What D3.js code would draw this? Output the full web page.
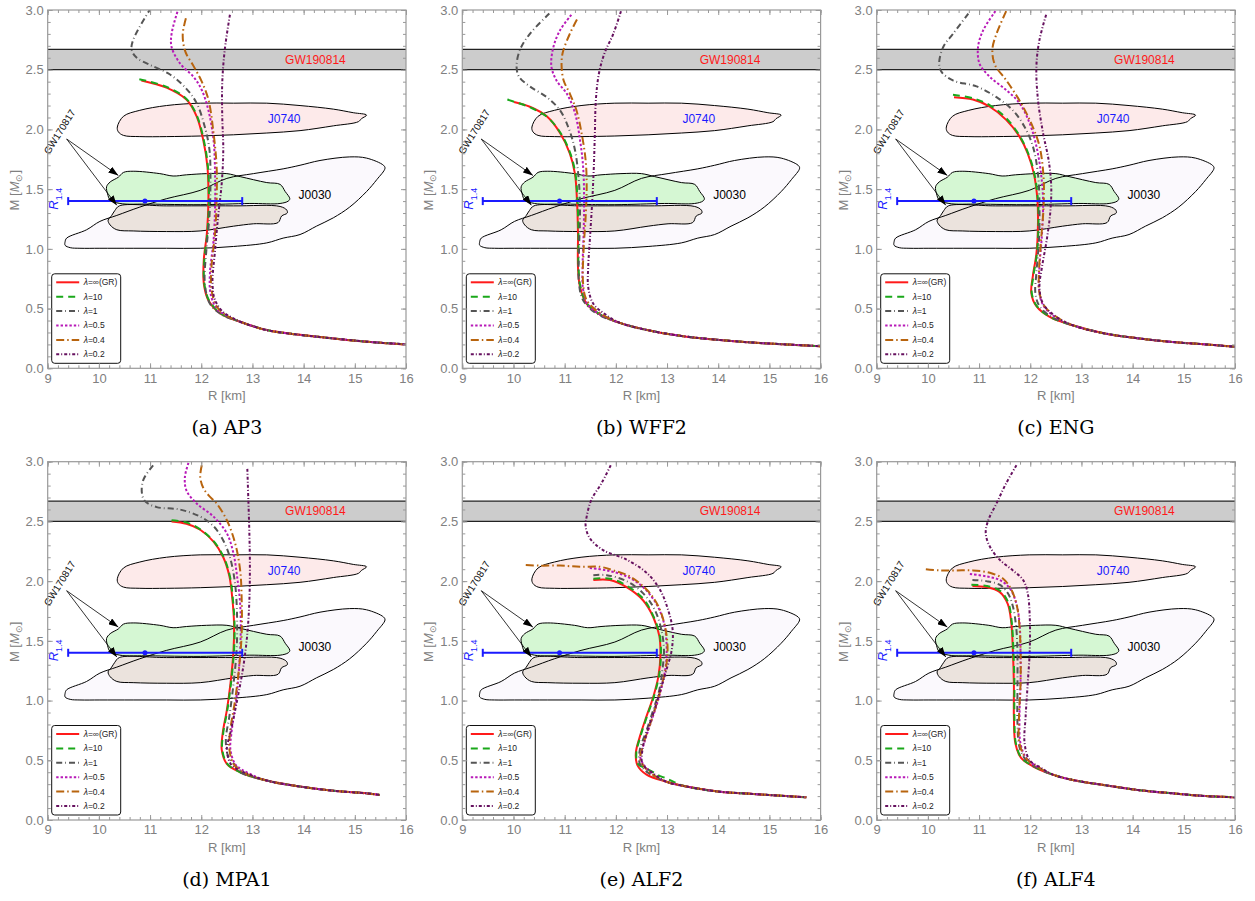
<!DOCTYPE html>
<html>
<head>
<meta charset="utf-8">
<script src="https://cdn.jsdelivr.net/npm/d3@7"></script>
<style>
body { margin: 0; background: #fff; }
svg { font-family: "Liberation Sans", Arial, sans-serif; }
</style>
</head>
<body>
<svg id="chart" width="1255" height="901"></svg>
<script>
// ---- data: [R km, M Msun] ----
var panelNames = ['AP3', 'WFF2', 'ENG', 'MPA1', 'ALF2', 'ALF4'];
var panelTags = ['(a)', '(b)', '(c)', '(d)', '(e)', '(f)'];
var lambdaLabels = ['=\u221e(GR)', '=10', '=1', '=0.5', '=0.4', '=0.2'];
var xTicks = [9, 10, 11, 12, 13, 14, 15, 16];
var yTicks = [0, 0.5, 1, 1.5, 2, 2.5, 3];

// AP3
var ap3GR = [[10.83,2.41],[11.32,2.35],[11.71,2.25],[11.91,2.11],[12.04,1.91],[12.12,1.69],[12.14,1.41],[12.11,1.13],[12.05,0.91],[12.05,0.71],[12.14,0.57],[12.37,0.46]];
var ap3L10 = [[10.79,2.42],[11.30,2.36],[11.70,2.26],[11.91,2.12],[12.05,1.91],[12.13,1.69],[12.15,1.41],[12.12,1.13],[12.06,0.91],[12.06,0.71],[12.15,0.57],[12.38,0.46]];
var ap3L1 = [[11.02,3.02],[10.67,2.75],[10.64,2.665],[10.74,2.60],[11.0,2.54],[11.39,2.46],[11.71,2.34],[11.91,2.22],[12.07,2.02],[12.16,1.83],[12.18,1.55],[12.16,1.27],[12.10,0.99],[12.07,0.71],[12.17,0.54],[12.40,0.45]];
var ap3L05 = [[11.56,3.02],[11.42,2.80],[11.42,2.69],[11.59,2.55],[11.85,2.44],[12.01,2.33],[12.14,2.16],[12.24,1.91],[12.27,1.63],[12.27,1.35],[12.24,1.07],[12.17,0.80],[12.18,0.63],[12.30,0.50],[12.50,0.44]];
var ap3L04 = [[11.70,2.93],[11.64,2.81],[11.65,2.72],[11.70,2.64],[11.85,2.53],[12.01,2.40],[12.14,2.25],[12.24,1.97],[12.30,1.69],[12.30,1.41],[12.27,1.13],[12.20,0.85],[12.20,0.66],[12.30,0.52],[12.50,0.44]];
var ap3L02 = [[12.56,2.96],[12.46,2.67],[12.41,2.39],[12.41,2.11],[12.43,1.83],[12.40,1.55],[12.33,1.27],[12.27,0.99],[12.22,0.71],[12.27,0.57],[12.43,0.47],[12.62,0.42]];
var ap3Tail = [[12.76,0.39],[13.28,0.32],[13.93,0.28],[14.58,0.25],[15.23,0.223],[16.0,0.20]];

// WFF2
var wffGR = [[10.01,2.23],[10.32,2.19],[10.65,2.11],[10.91,1.97],[11.10,1.80],[11.20,1.63],[11.24,1.41],[11.26,1.13],[11.26,0.85],[11.30,0.68],[11.43,0.54],[11.69,0.45]];
var wffL10 = [[9.88,2.25],[10.10,2.22],[10.35,2.18],[10.67,2.10],[10.92,1.97],[11.11,1.80],[11.21,1.63],[11.25,1.41],[11.27,1.13],[11.27,0.85],[11.31,0.68],[11.44,0.54],[11.70,0.45]];
var wffL1 = [[10.70,2.97],[10.32,2.80],[10.13,2.67],[10.06,2.53],[10.11,2.44],[10.32,2.36],[10.65,2.27],[10.91,2.16],[11.07,2.02],[11.20,1.83],[11.28,1.55],[11.30,1.27],[11.28,0.99],[11.28,0.71],[11.36,0.57],[11.62,0.46]];
var wffL05 = [[11.13,2.96],[10.91,2.83],[10.78,2.69],[10.74,2.53],[10.84,2.41],[11.04,2.30],[11.20,2.14],[11.30,1.91],[11.36,1.69],[11.38,1.41],[11.37,1.13],[11.35,0.85],[11.36,0.66],[11.46,0.53],[11.70,0.45]];
var wffL04 = [[11.24,2.92],[11.10,2.80],[10.96,2.64],[10.94,2.53],[10.98,2.41],[11.10,2.30],[11.23,2.16],[11.33,1.97],[11.41,1.74],[11.43,1.52],[11.41,1.27],[11.37,0.99],[11.36,0.71],[11.43,0.57],[11.70,0.46]];
var wffL02 = [[12.10,2.99],[11.95,2.80],[11.78,2.64],[11.67,2.47],[11.61,2.25],[11.59,1.97],[11.57,1.69],[11.54,1.41],[11.50,1.13],[11.46,0.85],[11.46,0.68],[11.56,0.54],[11.80,0.45]];
var wffTail = [[12.08,0.38],[12.73,0.31],[13.38,0.265],[14.03,0.237],[14.68,0.215],[15.33,0.20],[16.0,0.185]];

// ENG
var engGR = [[10.51,2.27],[10.88,2.25],[11.21,2.19],[11.53,2.08],[11.79,1.94],[11.95,1.80],[12.07,1.63],[12.14,1.41],[12.15,1.19],[12.12,0.96],[12.05,0.77],[12.02,0.63],[12.12,0.52],[12.38,0.43]];
var engL10 = [[10.49,2.29],[10.89,2.26],[11.22,2.20],[11.54,2.09],[11.80,1.94],[11.96,1.80],[12.08,1.63],[12.15,1.41],[12.16,1.19],[12.13,0.96],[12.06,0.77],[12.03,0.63],[12.13,0.52],[12.39,0.43]];
var engL1 = [[10.79,2.97],[10.49,2.80],[10.30,2.69],[10.22,2.55],[10.27,2.48],[10.49,2.41],[10.95,2.36],[11.34,2.27],[11.66,2.16],[11.89,2.02],[12.05,1.86],[12.15,1.63],[12.18,1.35],[12.17,1.07],[12.12,0.80],[12.10,0.63],[12.18,0.52],[12.42,0.43]];
var engL05 = [[11.32,2.99],[11.08,2.83],[10.98,2.69],[11.01,2.55],[11.21,2.44],[11.53,2.33],[11.79,2.22],[11.99,2.05],[12.12,1.86],[12.21,1.63],[12.25,1.41],[12.23,1.13],[12.18,0.85],[12.17,0.66],[12.25,0.53],[12.45,0.44]];
var engL04 = [[11.53,2.99],[11.34,2.80],[11.26,2.67],[11.31,2.54],[11.50,2.43],[11.66,2.33],[11.82,2.22],[12.02,2.05],[12.18,1.86],[12.26,1.60],[12.26,1.35],[12.21,1.07],[12.17,0.80],[12.18,0.63],[12.28,0.52],[12.48,0.44]];
var engL02 = [[12.31,2.96],[12.18,2.75],[12.12,2.53],[12.15,2.25],[12.25,1.97],[12.36,1.74],[12.41,1.52],[12.39,1.30],[12.32,1.07],[12.23,0.85],[12.18,0.68],[12.25,0.54],[12.48,0.44]];
var engTail = [[12.83,0.36],[13.48,0.29],[14.13,0.25],[14.78,0.22],[15.43,0.20],[16.0,0.18]];

// MPA1
var mpaGR = [[11.42,2.50],[11.71,2.48],[11.98,2.43],[12.24,2.33],[12.43,2.20],[12.55,2.04],[12.61,1.84],[12.64,1.65],[12.63,1.42],[12.57,1.14],[12.50,0.92],[12.42,0.73],[12.40,0.59],[12.50,0.47]];
var mpaL10 = [[11.42,2.51],[11.72,2.49],[11.99,2.43],[12.25,2.33],[12.44,2.20],[12.56,2.04],[12.62,1.84],[12.65,1.65],[12.64,1.42],[12.58,1.14],[12.51,0.92],[12.43,0.73],[12.41,0.59],[12.51,0.47]];
var mpaL1 = [[11.06,2.97],[10.87,2.85],[10.84,2.74],[10.90,2.67],[11.13,2.62],[11.58,2.60],[11.98,2.54],[12.24,2.46],[12.43,2.34],[12.56,2.20],[12.66,1.98],[12.70,1.70],[12.69,1.42],[12.63,1.14],[12.55,0.87],[12.48,0.67],[12.53,0.53],[12.70,0.44]];
var mpaL05 = [[11.75,2.99],[11.68,2.87],[11.71,2.76],[11.91,2.65],[12.24,2.54],[12.50,2.40],[12.63,2.23],[12.70,2.04],[12.76,1.81],[12.77,1.56],[12.74,1.28],[12.68,1.00],[12.59,0.73],[12.57,0.59],[12.66,0.47],[12.80,0.42]];
var mpaL04 = [[12.01,2.97],[11.98,2.87],[12.04,2.78],[12.14,2.72],[12.30,2.65],[12.50,2.51],[12.66,2.32],[12.76,2.09],[12.79,1.84],[12.79,1.56],[12.74,1.28],[12.66,1.00],[12.56,0.73],[12.55,0.59],[12.63,0.47],[12.78,0.41]];
var mpaL02 = [[12.90,2.94],[12.92,2.68],[12.94,2.40],[12.95,2.12],[12.94,1.84],[12.90,1.56],[12.82,1.28],[12.70,1.00],[12.57,0.73],[12.50,0.59],[12.59,0.46],[12.78,0.41]];
var mpaTail = [[12.76,0.40],[13.28,0.33],[13.93,0.28],[14.58,0.245],[15.23,0.223],[15.49,0.21]];

// ALF2
var alf2GR = [[11.56,2.01],[11.88,2.01],[12.21,1.95],[12.53,1.84],[12.73,1.70],[12.85,1.54],[12.87,1.37],[12.83,1.20],[12.73,1.03],[12.60,0.87],[12.47,0.70],[12.39,0.56],[12.42,0.46],[12.60,0.38]];
var alf2L10 = [[11.56,2.02],[11.89,2.02],[12.22,1.96],[12.54,1.85],[12.74,1.70],[12.86,1.54],[12.88,1.37],[12.84,1.20],[12.74,1.03],[12.61,0.87],[12.48,0.70],[12.40,0.56],[12.43,0.47],[12.60,0.43],[12.73,0.40],[12.85,0.37],[12.98,0.35],[13.15,0.315]];
var alf2L1 = [[11.56,2.05],[11.82,2.05],[12.21,2.00],[12.53,1.90],[12.76,1.76],[12.89,1.59],[12.94,1.42],[12.91,1.26],[12.85,1.09],[12.73,0.92],[12.60,0.75],[12.47,0.59],[12.47,0.47],[12.65,0.39]];
var alf2L05 = [[11.49,2.11],[11.82,2.09],[12.21,2.04],[12.53,1.95],[12.79,1.81],[12.94,1.65],[12.99,1.48],[12.98,1.31],[12.91,1.14],[12.81,0.98],[12.68,0.81],[12.55,0.64],[12.48,0.52],[12.68,0.40]];
var alf2L04 = [[10.24,2.135],[10.52,2.13],[10.91,2.13],[11.30,2.12],[11.69,2.12],[11.95,2.09],[12.27,2.04],[12.60,1.93],[12.83,1.79],[12.96,1.62],[13.01,1.45],[12.98,1.28],[12.89,1.12],[12.78,0.95],[12.65,0.78],[12.52,0.61],[12.48,0.50],[12.66,0.40]];
var alf2L02 = [[11.90,2.97],[11.72,2.82],[11.52,2.68],[11.43,2.54],[11.41,2.46],[11.49,2.36],[11.75,2.26],[12.21,2.18],[12.60,2.07],[12.86,1.93],[13.02,1.76],[13.11,1.59],[13.09,1.42],[12.99,1.26],[12.87,1.09],[12.73,0.89],[12.60,0.73],[12.52,0.59],[12.52,0.47],[12.70,0.40]];
var alf2Tail = [[12.99,0.32],[13.38,0.28],[14.03,0.237],[14.68,0.218],[15.33,0.20],[15.72,0.19]];

// ALF4
var alf4GR = [[10.87,1.96],[11.14,1.95],[11.40,1.91],[11.56,1.81],[11.63,1.65],[11.66,1.42],[11.68,1.14],[11.68,0.87],[11.71,0.64],[11.82,0.52],[12.05,0.45]];
var alf4L10 = [[10.85,1.97],[11.15,1.96],[11.41,1.92],[11.57,1.82],[11.64,1.65],[11.67,1.42],[11.69,1.14],[11.69,0.87],[11.72,0.64],[11.83,0.52],[12.06,0.45]];
var alf4L1 = [[10.87,2.01],[11.14,2.00],[11.40,1.97],[11.56,1.90],[11.66,1.79],[11.73,1.59],[11.75,1.37],[11.75,1.09],[11.75,0.81],[11.79,0.61],[11.92,0.50],[12.12,0.44]];
var alf4L05 = [[10.82,2.06],[11.14,2.04],[11.40,2.01],[11.60,1.94],[11.73,1.81],[11.79,1.65],[11.81,1.42],[11.81,1.14],[11.79,0.87],[11.81,0.64],[11.92,0.52],[12.12,0.45]];
var alf4L04 = [[9.96,2.10],[10.23,2.09],[10.56,2.09],[10.88,2.09],[11.21,2.07],[11.47,2.02],[11.63,1.93],[11.74,1.79],[11.79,1.62],[11.81,1.42],[11.81,1.14],[11.78,0.87],[11.79,0.64],[11.91,0.52],[12.12,0.45]];
var alf4L02 = [[11.73,2.97],[11.53,2.82],[11.34,2.65],[11.18,2.51],[11.13,2.40],[11.21,2.29],[11.40,2.18],[11.66,2.09],[11.86,2.01],[11.95,1.90],[11.99,1.70],[11.99,1.42],[11.95,1.14],[11.91,0.87],[11.89,0.64],[11.99,0.50],[12.20,0.44]];
var alf4Tail = [[12.44,0.38],[12.83,0.335],[13.48,0.29],[14.13,0.25],[14.78,0.223],[15.43,0.20],[16.0,0.19]];

// observational constraints (same in every panel)
var gw190814Band = [2.50, 2.67];
var j0740Outline = [[10.36,2.02],[10.48,2.11],[10.80,2.16],[11.32,2.20],[11.98,2.22],[12.63,2.22],[13.28,2.22],[13.93,2.20],[14.58,2.17],[14.97,2.14],[15.23,2.12],[15.13,2.09],[15.07,2.065],[14.58,2.03],[13.93,1.99],[13.28,1.97],[12.63,1.955],[11.98,1.945],[11.32,1.94],[10.80,1.94],[10.48,1.95],[10.38,1.98]];
var j0030Outline = [[9.34,1.06],[9.37,1.09],[9.76,1.16],[10.02,1.23],[10.35,1.28],[10.80,1.35],[11.32,1.42],[11.98,1.49],[12.50,1.59],[13.02,1.63],[13.60,1.67],[13.93,1.70],[14.32,1.74],[14.90,1.77],[15.23,1.76],[15.56,1.70],[15.59,1.675],[15.43,1.58],[15.23,1.48],[14.90,1.35],[14.58,1.26],[14.25,1.19],[13.93,1.12],[13.60,1.09],[13.28,1.05],[12.63,1.02],[11.98,1.005],[11.32,1.005],[10.67,1.005],[10.02,1.005],[9.63,1.005],[9.44,1.01],[9.34,1.03]];
var gwUpperOutline = [[10.15,1.52],[10.22,1.56],[10.38,1.60],[10.48,1.64],[10.67,1.65],[11.19,1.63],[11.45,1.61],[11.71,1.62],[12.10,1.63],[12.50,1.63],[12.76,1.605],[13.28,1.555],[13.54,1.54],[13.64,1.48],[13.73,1.42],[13.70,1.40],[13.54,1.38],[12.95,1.38],[11.98,1.37],[11.00,1.375],[10.41,1.38],[10.22,1.41],[10.17,1.46]];
var gwLowerOutline = [[10.40,1.36],[11.32,1.36],[12.63,1.36],[13.54,1.355],[13.67,1.325],[13.68,1.30],[13.57,1.275],[13.50,1.22],[13.02,1.21],[12.63,1.19],[11.98,1.15],[11.32,1.145],[10.67,1.15],[10.35,1.16],[10.22,1.20],[10.18,1.24],[10.25,1.28],[10.31,1.32]];
var r14Bar = [9.4, 10.9, 12.8];   // low, centre, high
var r14Mass = 1.4;
var gwArrowFrom = [9.37, 1.92];
var gwArrowTo = [[10.38, 1.615], [10.35, 1.365]];

var panelSeries = [
  [ap3GR, ap3L10, ap3L1, ap3L05, ap3L04, ap3L02],
  [wffGR, wffL10, wffL1, wffL05, wffL04, wffL02],
  [engGR, engL10, engL1, engL05, engL04, engL02],
  [mpaGR, mpaL10, mpaL1, mpaL05, mpaL04, mpaL02],
  [alf2GR, alf2L10, alf2L1, alf2L05, alf2L04, alf2L02],
  [alf4GR, alf4L10, alf4L1, alf4L05, alf4L04, alf4L02]
];
var panelTails = [ap3Tail, wffTail, engTail, mpaTail, alf2Tail, alf4Tail];

// ---- styles ----
var lineColors = ['#ff1a1a', '#1aa81a', '#555555', '#b81ab8', '#b8640e', '#66115f'];
var lineDash = [null, '7,5', '6,3,0.8,3', '2.4,2', '8,3,1.5,3', '3,2,1,2'];

var W = 358.3, H = 358.3;
var lefts = [47.7, 462.3, 876.7];
var tops = [10, 461.7];

var svg = d3.select('#chart');
var defs = svg.append('defs');
defs.append('marker')
    .attr('id', 'arrowhead')
    .attr('markerUnits', 'userSpaceOnUse')
    .attr('markerWidth', 10).attr('markerHeight', 7)
    .attr('refX', 10).attr('refY', 3.5)
    .attr('orient', 'auto')
    .append('path').attr('d', 'M0,0 L10,3.5 L0,7 Z').attr('fill', '#000');

var x = d3.scaleLinear().domain([9, 16]).range([0, W]);
var y = d3.scaleLinear().domain([0, 3]).range([H, 0]);

var curveLine = d3.line()
    .x(function(d) { return x(d[0]); })
    .y(function(d) { return y(d[1]); })
    .curve(d3.curveCatmullRom.alpha(0.5));
var outlineLine = d3.line()
    .x(function(d) { return x(d[0]); })
    .y(function(d) { return y(d[1]); })
    .curve(d3.curveCatmullRomClosed.alpha(0.5));

panelNames.forEach(function(name, p) {
    var col = p % 3, row = Math.floor(p / 3);
    var g = svg.append('g')
        .attr('transform', 'translate(' + lefts[col] + ',' + tops[row] + ')');

    defs.append('clipPath').attr('id', 'clip' + p)
        .append('rect').attr('width', W).attr('height', H);

    var plot = g.append('g').attr('clip-path', 'url(#clip' + p + ')');

    // regions
    plot.append('path').attr('d', outlineLine(j0030Outline)).attr('fill', '#fbf9fd');
    plot.append('path').attr('d', outlineLine(gwUpperOutline)).attr('fill', '#d5f7d3');
    plot.append('path').attr('d', outlineLine(gwLowerOutline)).attr('fill', '#ebe3dd');
    plot.append('path').attr('d', outlineLine(j0740Outline)).attr('fill', '#fdeaea');
    [j0030Outline, gwUpperOutline, gwLowerOutline, j0740Outline].forEach(function(o) {
        plot.append('path').attr('d', outlineLine(o))
            .attr('fill', 'none').attr('stroke', '#000').attr('stroke-width', 1);
    });

    // GW190814 band
    plot.append('rect')
        .attr('x', 0).attr('width', W)
        .attr('y', y(gw190814Band[1]))
        .attr('height', y(gw190814Band[0]) - y(gw190814Band[1]))
        .attr('fill', '#cccccc');
    gw190814Band.forEach(function(m) {
        plot.append('line').attr('x1', 0).attr('x2', W)
            .attr('y1', y(m)).attr('y2', y(m))
            .attr('stroke', '#222').attr('stroke-width', 1.2);
    });

    g.append('text').attr('x', x(14.23)).attr('y', y(2.585))
        .attr('dy', '0.35em').attr('text-anchor', 'middle')
        .attr('font-size', 12).attr('fill', '#ff1a1a').text('GW190814');
    g.append('text').attr('x', x(13.62)).attr('y', y(2.085))
        .attr('dy', '0.35em').attr('text-anchor', 'middle')
        .attr('font-size', 12).attr('fill', '#1a1aff').text('J0740');
    g.append('text').attr('x', x(14.22)).attr('y', y(1.45))
        .attr('dy', '0.35em').attr('text-anchor', 'middle')
        .attr('font-size', 12).attr('fill', '#000').text('J0030');

    // R_1.4 error bar
    var eb = g.append('g').attr('stroke', '#1a1aff').attr('stroke-width', 2);
    eb.append('line').attr('x1', x(r14Bar[0])).attr('x2', x(r14Bar[2]))
        .attr('y1', y(r14Mass)).attr('y2', y(r14Mass));
    [r14Bar[0], r14Bar[2]].forEach(function(v) {
        eb.append('line').attr('x1', x(v)).attr('x2', x(v))
            .attr('y1', y(r14Mass) - 4).attr('y2', y(r14Mass) + 4);
    });
    g.append('circle').attr('cx', x(r14Bar[1])).attr('cy', y(r14Mass))
        .attr('r', 2.5).attr('fill', '#1a1aff');
    var rl = g.append('text')
        .attr('transform', 'translate(' + (x(9.2)) + ',' + y(1.42) + ') rotate(-90)')
        .attr('text-anchor', 'middle').attr('fill', '#1a1aff').attr('font-size', 13);
    rl.append('tspan').attr('font-style', 'italic').text('R');
    rl.append('tspan').attr('font-size', 9).attr('dy', 4).text('1.4');

    // GW170817 arrows + label
    gwArrowTo.forEach(function(t) {
        g.append('line')
            .attr('x1', x(gwArrowFrom[0])).attr('y1', y(gwArrowFrom[1]))
            .attr('x2', x(t[0])).attr('y2', y(t[1]))
            .attr('stroke', '#000').attr('stroke-width', 0.8)
            .attr('marker-end', 'url(#arrowhead)');
    });
    g.append('text')
        .attr('transform', 'translate(' + x(9.29) + ',' + y(1.965) + ') rotate(-58)')
        .attr('text-anchor', 'middle').attr('font-size', 10).attr('fill', '#111')
        .text('GW170817');

    // M-R curves
    var series = panelSeries[p], tail = panelTails[p];
    series.forEach(function(s, k) {
        var last = s[s.length - 1][0];
        var pts = s.concat(tail.filter(function(d) { return d[0] > last + 0.05; }));
        plot.append('path')
            .attr('d', curveLine(pts))
            .attr('fill', 'none')
            .attr('stroke', lineColors[k])
            .attr('stroke-width', 2)
            .attr('stroke-dasharray', lineDash[k]);
    });

    // legend
    var lg = g.append('g').attr('transform', 'translate(4,' + (H - 94.5) + ')');
    lg.append('rect').attr('width', 69).attr('height', 89.5).attr('rx', 3)
        .attr('fill', '#fff').attr('stroke', '#111').attr('stroke-width', 1);
    lambdaLabels.forEach(function(lab, k) {
        var yy = 8.5 + k * 14.4;
        lg.append('line').attr('x1', 4.5).attr('x2', 27.5).attr('y1', yy).attr('y2', yy)
            .attr('stroke', lineColors[k]).attr('stroke-width', 2)
            .attr('stroke-dasharray', lineDash[k]);
        var t = lg.append('text').attr('x', 32).attr('y', yy).attr('dy', '0.35em')
            .attr('font-size', 8.5).attr('fill', '#222');
        t.append('tspan').attr('font-style', 'italic').text('\u03bb');
        t.append('tspan').text(lab);
    });

    // frame and ticks (Mathematica-style, inward on all sides)
    var axes = g.append('g').attr('class', 'axes');
    var xMinor = d3.range(9, 16.001, 0.2);
    var yMinor = d3.range(0, 3.001, 0.1);
    axes.append('g').attr('transform', 'translate(0,' + H + ')')
        .call(d3.axisBottom(x).tickValues(xMinor).tickSize(-3).tickFormat(''));
    axes.append('g').attr('transform', 'translate(0,' + H + ')')
        .call(d3.axisBottom(x).tickValues(xTicks).tickSize(-5).tickPadding(5).tickFormat(d3.format('d')));
    axes.append('g')
        .call(d3.axisTop(x).tickValues(xMinor).tickSize(-3).tickFormat(''));
    axes.append('g')
        .call(d3.axisTop(x).tickValues(xTicks).tickSize(-5).tickFormat(''));
    axes.append('g')
        .call(d3.axisLeft(y).tickValues(yMinor).tickSize(-3).tickFormat(''));
    axes.append('g')
        .call(d3.axisLeft(y).tickValues(yTicks).tickSize(-5).tickPadding(4).tickFormat(d3.format('.1f')));
    axes.append('g').attr('transform', 'translate(' + W + ',0)')
        .call(d3.axisRight(y).tickValues(yMinor).tickSize(-3).tickFormat(''));
    axes.append('g').attr('transform', 'translate(' + W + ',0)')
        .call(d3.axisRight(y).tickValues(yTicks).tickSize(-5).tickFormat(''));
    axes.selectAll('.domain').remove();
    axes.selectAll('.tick line').attr('stroke', '#999');
    axes.selectAll('.tick text').attr('fill', '#808080').attr('font-size', 13)
        .attr('font-family', '"Liberation Sans", Arial, sans-serif');
    g.append('rect').attr('width', W).attr('height', H)
        .attr('fill', 'none').attr('stroke', '#999').attr('stroke-width', 1.2);

    // axis titles
    g.append('text').attr('x', W / 2).attr('y', H + 32)
        .attr('text-anchor', 'middle').attr('font-size', 13).attr('fill', '#808080')
        .text('R [km]');
    var ml = g.append('text')
        .attr('transform', 'translate(-29,' + (H / 2 + 1) + ') rotate(-90)')
        .attr('text-anchor', 'middle').attr('font-size', 13).attr('fill', '#808080');
    ml.append('tspan').text('M [');
    ml.append('tspan').attr('font-style', 'italic').text('M');
    ml.append('tspan').attr('font-size', 9).attr('dy', 3).text('\u2299');
    ml.append('tspan').attr('dy', -3).text(']');

    // caption
    g.append('text').attr('x', W / 2).attr('y', H + 66)
        .attr('text-anchor', 'middle')
        .attr('font-family', '"DejaVu Serif", serif').attr('font-size', 19)
        .attr('fill', '#000')
        .text(panelTags[p] + ' ' + name);
});
</script>
</body>
</html>
